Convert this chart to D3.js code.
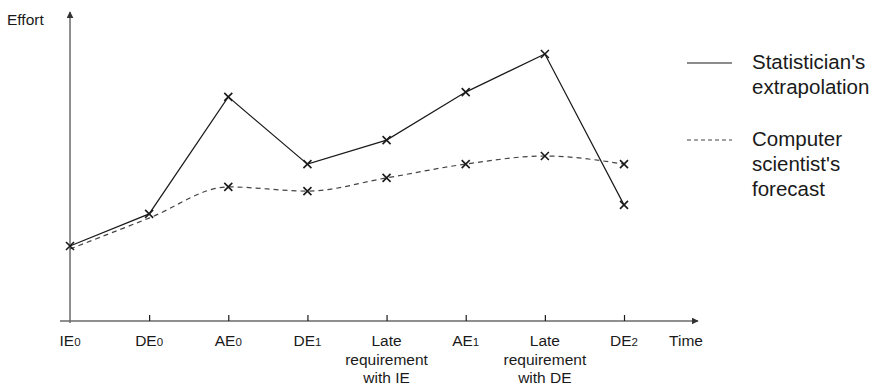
<!DOCTYPE html>
<html>
<head>
<meta charset="utf-8">
<script src="https://cdn.jsdelivr.net/npm/d3@7/dist/d3.min.js"></script>
<style>
  html, body { margin: 0; padding: 0; background: #fff; }
  svg { display: block; font-family: "Liberation Sans", Arial, sans-serif; }
</style>
</head>
<body>
<svg id="chart" width="884" height="389"></svg>
<script>
// Phases along the time axis (main text + optional subscript, multi-line allowed)
const phases = ["IE0", "DE0", "AE0", "DE1", "LateIE", "AE1", "LateDE", "DE2"];
const phaseLabels = [
  [["IE", "0"]],
  [["DE", "0"]],
  [["AE", "0"]],
  [["DE", "1"]],
  [["Late", ""], ["requirement", ""], ["with IE", ""]],
  [["AE", "1"]],
  [["Late", ""], ["requirement", ""], ["with DE", ""]],
  [["DE", "2"]]
];

// Effort estimates per phase
const statisticianEffort = [2.5, 3.57, 7.47, 5.23, 6.03, 7.63, 8.9, 3.87];
const scientistEffort    = [2.4, 3.43, 4.47, 4.33, 4.77, 5.23, 5.5, 5.23];
// The forecast's first two points coincide with the extrapolation's markers
const scientistMarked    = [false, false, true, true, true, true, true, true];

const legendItems = [
  { lines: ["Statistician's", "extrapolation"], dashed: false },
  { lines: ["Computer", "scientist's", "forecast"], dashed: true }
];

const svg = d3.select("#chart");
const ink = "#1a1a1a";
const axisInk = "#6a6a6a";

const x = d3.scalePoint().domain(phases).range([70, 624]);
const y = d3.scaleLinear().domain([0, 10]).range([321, 21]);

// arrowhead
svg.append("defs").append("marker")
  .attr("id", "arrow")
  .attr("viewBox", "0 0 10 10")
  .attr("refX", 9).attr("refY", 5)
  .attr("markerWidth", 7).attr("markerHeight", 7)
  .attr("markerUnits", "userSpaceOnUse")
  .attr("orient", "auto")
  .append("path").attr("d", "M0,0 L10,5 L0,10 Z").attr("fill", "#333");

// axes
svg.append("line")
  .attr("x1", 60).attr("y1", y(0)).attr("x2", 698).attr("y2", y(0))
  .attr("stroke", axisInk).attr("stroke-width", 1.5)
  .attr("marker-end", "url(#arrow)");
svg.append("line")
  .attr("x1", x("IE0")).attr("y1", y(0) + 2).attr("x2", x("IE0")).attr("y2", 12)
  .attr("stroke", axisInk).attr("stroke-width", 1.5)
  .attr("marker-end", "url(#arrow)");

const xAxis = d3.axisBottom(x).tickSizeInner(-6).tickSizeOuter(0).tickFormat("");
const gx = svg.append("g").attr("transform", `translate(0,${y(0)})`).call(xAxis);
gx.select(".domain").remove();
gx.selectAll(".tick line").attr("stroke", ink).attr("stroke-width", 1.2);
gx.selectAll(".tick").filter(d => d === "IE0").select("line").remove();

// tick labels
const labels = svg.append("g").attr("fill", ink).attr("text-anchor", "middle");
phases.forEach((p, i) => {
  phaseLabels[i].forEach((ln, j) => {
    const t = labels.append("text")
      .attr("x", x(p))
      .attr("y", 346 + j * 18.5)
      .attr("font-size", 15.5);
    t.append("tspan").text(ln[0]);
    if (ln[1]) t.append("tspan").attr("font-size", 11.5).text(ln[1]);
  });
});

svg.append("text").attr("x", 686).attr("y", 346)
  .attr("text-anchor", "middle").attr("font-size", 15.5).attr("fill", ink).text("Time");
svg.append("text").attr("x", 7).attr("y", 25)
  .attr("font-size", 15.5).attr("fill", ink).text("Effort");

// series lines
const solidLine = d3.line().x((d, i) => x(phases[i])).y(d => y(d));
const dashedLine = d3.line().x((d, i) => x(phases[i])).y(d => y(d)).curve(d3.curveMonotoneX);

svg.append("path").datum(statisticianEffort)
  .attr("d", solidLine).attr("fill", "none")
  .attr("stroke", ink).attr("stroke-width", 1.2);
svg.append("path").datum(scientistEffort)
  .attr("d", dashedLine).attr("fill", "none")
  .attr("stroke", "#444").attr("stroke-width", 1.2)
  .attr("stroke-dasharray", "5,4");

// x-shaped markers
function crosses(values, shown) {
  const pts = values.map((v, i) => ({ v, i })).filter(d => !shown || shown[d.i]);
  svg.append("g").selectAll("path").data(pts).join("path")
    .attr("d", d => {
      const cx = x(phases[d.i]), cy = y(d.v), r = 4;
      return `M${cx - r},${cy - r}L${cx + r},${cy + r}M${cx + r},${cy - r}L${cx - r},${cy + r}`;
    })
    .attr("stroke", ink).attr("stroke-width", 1.6).attr("fill", "none");
}
crosses(statisticianEffort, null);
crosses(scientistEffort, scientistMarked);

// legend
const legendTop = [69, 146];
legendItems.forEach((item, k) => {
  const base = legendTop[k];
  svg.append("line")
    .attr("x1", 687).attr("x2", 732)
    .attr("y1", base - 6).attr("y2", base - 6)
    .attr("stroke", item.dashed ? "#444" : ink).attr("stroke-width", 1.2)
    .attr("stroke-dasharray", item.dashed ? "4,3" : null);
  item.lines.forEach((ln, j) => {
    svg.append("text").attr("x", 752).attr("y", base + j * 25)
      .attr("font-size", 20.5).attr("fill", ink).text(ln);
  });
});
</script>
</body>
</html>
